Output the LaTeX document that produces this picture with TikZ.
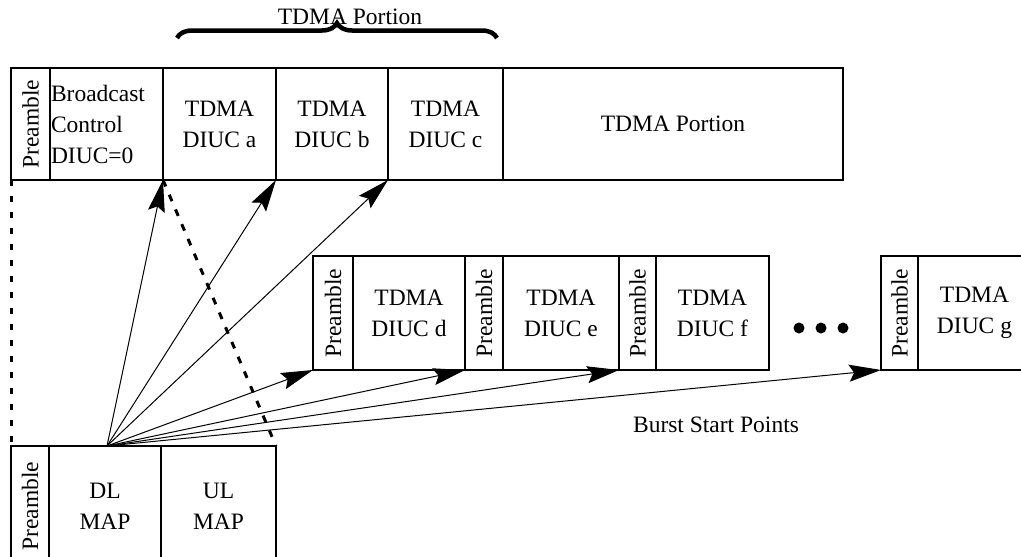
\documentclass[tikz,border=0pt]{standalone}
\usepackage{fontspec}
\setmainfont{Liberation Serif}
\usetikzlibrary{arrows.meta,decorations.pathreplacing,calc}
\begin{document}
\begin{tikzpicture}[x=1pt,y=-1pt,
  every node/.style={font=\fontsize{23.5}{31}\selectfont},
  cell/.style={draw, line width=1.8pt, inner sep=0pt, outer sep=0pt, anchor=north west, align=center},
  wh/.style 2 args={minimum width=#1pt, minimum height=#2pt},
  arr/.style={line width=1pt, -{Stealth[length=32pt,width=17pt,inset=5pt]}},
  dashline/.style={line width=3pt, dash pattern=on 7pt off 9pt},
  bracestyle/.style={line width=4.5pt, decorate, decoration={brace, amplitude=15pt}}]
\useasboundingbox (0,0) rectangle (1021,557);
% top row
\node[cell, wh={39}{112}] (p1) at (11,68) {\raisebox{-6pt}{\rotatebox{90}{Preamble}}};
\node[cell, wh={113}{112}, align=left, text width=111pt] (bc) at (50,68) {Broadcast\\Control\\DIUC=0};
\node[cell, wh={113}{112}] (a) at (163,68) {TDMA\\DIUC a};
\node[cell, wh={112}{112}] (b) at (276,68) {TDMA\\DIUC b};
\node[cell, wh={115}{112}] (c) at (388,68) {TDMA\\DIUC c};
\node[cell, wh={340}{112}] (tp) at (503,68) {TDMA Portion};
% middle row
\node[cell, wh={40}{114}] (pd) at (313,256) {\rotatebox{90}{Preamble}};
\node[cell, wh={112}{114}] (d) at (353,256) {TDMA\\DIUC d};
\node[cell, wh={38}{114}] (pe) at (465,256) {\rotatebox{90}{Preamble}};
\node[cell, wh={116}{114}] (e) at (503,256) {TDMA\\DIUC e};
\node[cell, wh={37}{114}] (pf) at (619,256) {\rotatebox{90}{Preamble}};
\node[cell, wh={113}{114}] (f) at (656,256) {TDMA\\DIUC f};
\node[cell, wh={37}{114}] (pg) at (881,256) {\rotatebox{90}{Preamble}};
\node[cell, wh={113}{114}] (g) at (918,256) {TDMA\\DIUC g};
% bottom row
\node[cell, wh={38}{120}] (pb) at (11,446) {\rotatebox{90}{Preamble}};
\node[cell, wh={112}{120}] (dl) at (49,446) {DL\\MAP};
\node[cell, wh={115}{120}] (ul) at (161,446) {UL\\MAP};
% labels
\node (tl) at (350,17) {TDMA Portion};
\node (burst) at (716,425) {Burst Start Points};
\draw[bracestyle] (177,38) -- (497,38);
% dots
\fill (799,328) circle (5.5pt);
\fill (821,328) circle (5.5pt);
\fill (843,328) circle (5.5pt);
% dashed lines
\draw[line width=3pt, dash pattern=on 6pt off 10pt] (p1.south west) -- (pb.north west);
\draw[dashline] (a.south west) -- (ul.north east);
% arrows
\coordinate (src) at ([xshift=2pt]dl.north);
\foreach \t in {a,b,c,pd,pe,pf,pg} \draw[arr] (src) -- (\t.south west);
\end{tikzpicture}
\end{document}
